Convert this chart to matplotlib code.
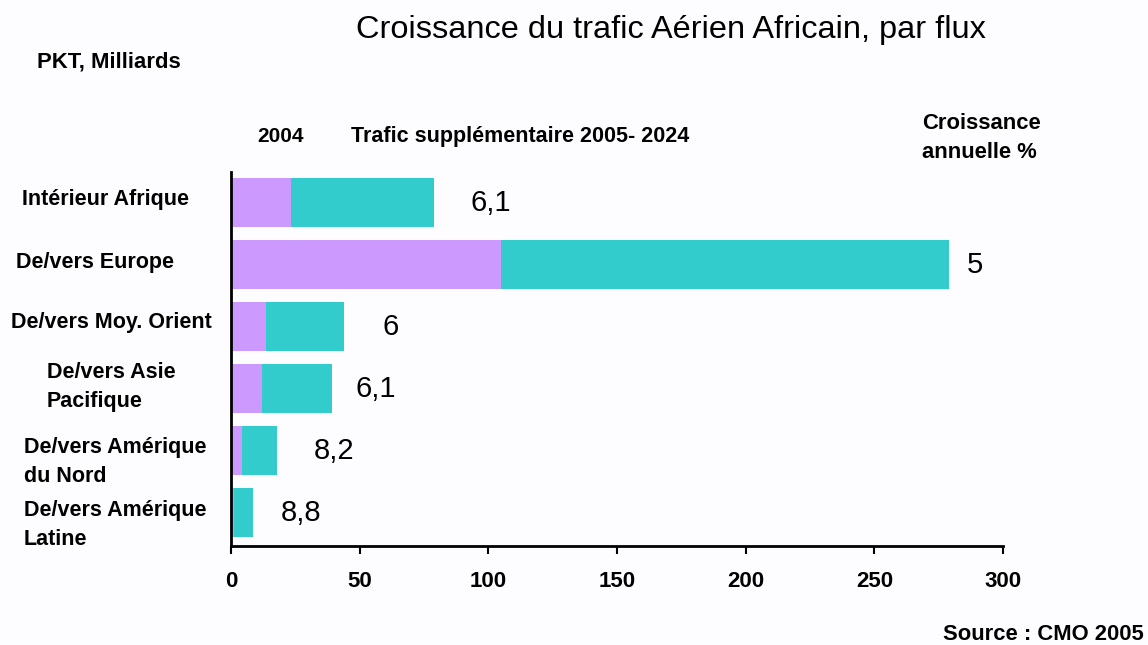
import matplotlib
matplotlib.use("Agg")
import matplotlib.pyplot as plt

categories = ["Intérieur Afrique", "De/vers Europe", "De/vers Moy. Orient",
              "De/vers Asie\nPacifique", "De/vers Amérique\ndu Nord", "De/vers Amérique\nLatine"]
traffic_2004 = [23.3, 104.8, 13.6, 12.0, 4.3, 1.0]
traffic_extra = [55.5, 174.4, 30.2, 27.2, 13.5, 7.5]
growth_labels = ["6,1", "5", "6", "6,1", "8,2", "8,8"]
label_x = [93, 286, 59, 48.5, 32, 19.4]
xticks = [0, 50, 100, 150, 200, 250, 300]

plt.rcParams["font.family"] = ["Liberation Sans", "DejaVu Sans"]

purple = "#CC99FF"
teal = "#33CCCC"

fig = plt.figure(figsize=(11.48, 6.45), dpi=100)
fig.patch.set_facecolor("#FDFDFF")
ax = fig.add_axes([0.2012, 0.1535, 0.6725, 0.5806])
ax.set_facecolor("#FDFDFF")

y = list(range(len(categories)))
ax.barh(y, traffic_2004, height=0.79, color=purple, edgecolor="none")
ax.barh(y, traffic_extra, left=traffic_2004, height=0.79, color=teal, edgecolor="none")

for yi, lab, xl in zip(y, growth_labels, label_x):
    ax.text(xl, yi, lab, fontsize=21, va="center", ha="left")

# category labels (centred block, left-aligned lines)
label_cx = [-0.162, -0.176, -0.155, -0.155, -0.150, -0.150]
label_dy = [-0.05, -0.03, -0.07, -0.03, 0.18, 0.2]
trans = ax.get_yaxis_transform()
for yi, cat, cx, dy in zip(y, categories, label_cx, label_dy):
    ax.text(cx, yi + dy, cat, transform=trans, fontsize=15.5, fontweight="bold",
            ha="center", va="center", multialignment="left", linespacing=1.5,
            clip_on=False)

ax.set_xlim(0, 300)
ax.set_ylim(5.54, -0.5)
ax.set_xticks(xticks)
ax.set_xticklabels([str(t) for t in xticks], fontsize=16, fontweight="bold")
ax.set_yticks([])
ax.tick_params(axis="x", length=6, width=1.5, direction="out", pad=12)
for s in ["top", "right"]:
    ax.spines[s].set_visible(False)
for s in ["left", "bottom"]:
    ax.spines[s].set_linewidth(2)

fig.text(0.5845, 0.953, "Croissance du trafic Aérien Africain, par flux",
         fontsize=23.4, ha="center", va="center")
fig.text(0.032, 0.904, "PKT, Milliards", fontsize=15.9, fontweight="bold", va="center")
fig.text(0.224, 0.788, "2004", fontsize=15, fontweight="bold", va="center")
fig.text(0.306, 0.788, "Trafic supplémentaire 2005- 2024", fontsize=15.5,
         fontweight="bold", va="center")
fig.text(0.803, 0.786, "Croissance\nannuelle %", fontsize=15.8, fontweight="bold",
         va="center", linespacing=1.45)
fig.text(0.996, 0.017, "Source : CMO 2005", fontsize=15.8, fontweight="bold",
         ha="right", va="center")

fig.savefig("out.png", dpi=100, facecolor=fig.get_facecolor())
